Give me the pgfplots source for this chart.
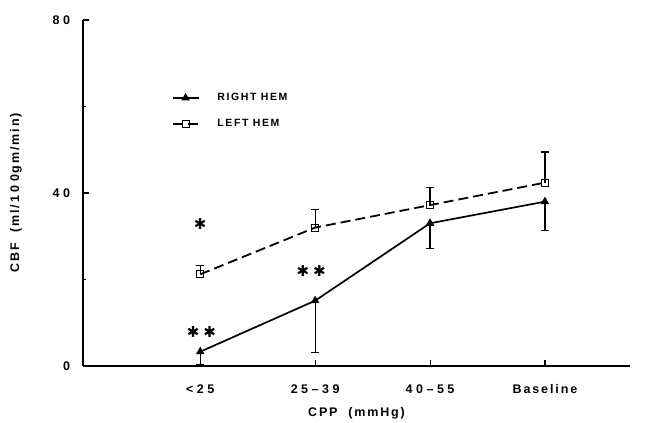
\documentclass[border=0pt]{standalone}
\usepackage{fontspec}
\setmainfont[LetterSpace=15]{Liberation Sans Bold}
\newfontfamily\dejavu{DejaVu Sans Bold}
\usepackage{pgfplots}
\pgfplotsset{compat=1.18}
\newcommand{\ks}{\kern3.5pt}
\newcommand{\sig}{{\dejavu\fontsize{15}{15}\selectfont ✱}}
\begin{document}
\begin{tikzpicture}
\begin{axis}[name=ax, scale only axis, width=547pt, height=346pt,
  xmin=-1.02, xmax=3.74, ymin=0, ymax=80,
  axis lines=left, axis line style={-, line width=1.3pt},
  xtick={0,1,2,3}, xticklabels={<\ks2\ks5, 2\ks5\ks--\ks3\ks9, 4\ks0\ks--\ks5\ks5, Baseline},
  ytick={0,40,80}, yticklabels={0, 4\ks0, 8\ks0}, minor ytick={20,60},
  tick align=inside, major tick length=6pt, minor tick length=3pt,
  tick style={line width=1.1pt, black},
  /pgf/number format/assume math mode=true,
  tick label style={font=\fontsize{12.5}{13}\selectfont},
  yticklabel style={xshift=-9.5pt},
  xticklabel style={anchor=center, yshift=-23pt},
  xlabel={CPP\ \ (mmHg)}, ylabel={CBF\ \ (ml/1\ks0\ks0gm/min)},
  label style={font=\fontsize{12.5}{13}\selectfont},
  xlabel style={at={(axis description cs:0.5,0)}, anchor=center, yshift=-47pt},
  ylabel style={at={(axis description cs:0,0.5)}, anchor=center, yshift=67pt},
  clip=false,
  legend style={at={(axis cs:-0.25,63.5)}, anchor=north west, draw=none, fill=none,
    font=\fontsize{10.5}{11}\selectfont, row sep=13pt, inner sep=0pt,
    nodes={inner sep=2pt},
    /tikz/every odd column/.append style={column sep=16pt}},
  legend cell align=left,
  legend image code/.code={\draw[mark repeat=2,mark phase=2,#1] plot coordinates {(0pt,0pt) (13pt,0pt) (26pt,0pt)};},
]
\addplot[black, solid, line width=1.7pt, mark=triangle*, mark size=4pt,
  mark options={solid, line width=1pt},
  error bars/.cd, y dir=minus, y explicit, error mark=-,
  error bar style={line width=1.2pt, solid},
  error mark options={mark size=4pt, line width=1.2pt, rotate=90, solid}]
  coordinates {(0,3.3) +- (0,3.0) (1,15.1) +- (0,11.9) (2,33.0) +- (0,5.8) (3,38.0) +- (0,6.7)};
\addlegendentry{RIGHT\ HEM}
\addplot[black, dash pattern=on 10pt off 5pt, line width=1.8pt, mark=square, mark size=3.5pt,
  mark options={solid, line width=1pt, fill=white},
  error bars/.cd, y dir=plus, y explicit, error mark=-,
  error bar style={line width=1.2pt, solid},
  error mark options={mark size=4pt, line width=1.2pt, rotate=90, solid}]
  coordinates {(0,21.2) +- (0,2.0) (1,32.0) +- (0,4.2) (2,37.2) +- (0,4.0) (3,42.4) +- (0,7.1)};
\addlegendentry{LEFT\ HEM}
\node at (axis cs:0,32.8) {\sig};
\node at (axis cs:0.01,7.9) {\sig\kern4pt\sig};
\node at (axis cs:0.965,22.0) {\sig\kern4pt\sig};
\end{axis}
\path ([shift={(-83pt,-54pt)}]ax.south west) rectangle ([shift={(25pt,20pt)}]ax.north east);
\end{tikzpicture}
\end{document}
